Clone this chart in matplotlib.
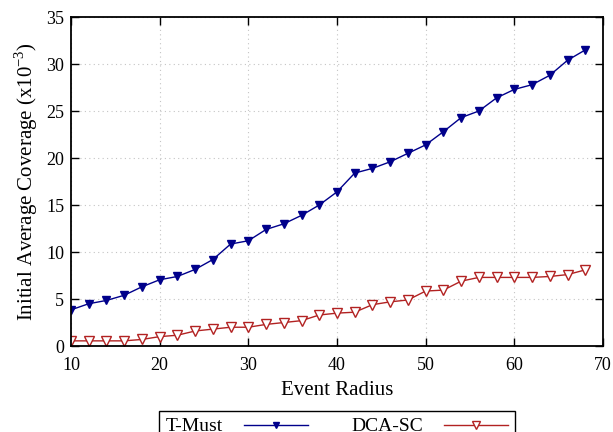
import matplotlib
matplotlib.use("Agg")
import matplotlib.pyplot as plt

plt.rcParams['font.family'] = ['Liberation Serif', 'DejaVu Serif']
plt.rcParams['mathtext.fontset'] = 'custom'
plt.rcParams['mathtext.rm'] = 'Liberation Serif'

# data
radius = [10, 12, 14, 16, 18, 20, 22, 24, 26, 28, 30, 32, 34, 36, 38,
          40, 42, 44, 46, 48, 50, 52, 54, 56, 58, 60, 62, 64, 66, 68]
t_must = [3.85, 4.5, 4.85, 5.4, 6.3, 7.05, 7.4, 8.15, 9.2, 10.85, 11.2, 12.4, 13.0, 13.9, 15.0,
          16.4, 18.4, 18.9, 19.6, 20.5, 21.4, 22.8, 24.3, 25.0, 26.4, 27.3, 27.8, 28.8, 30.4, 31.5]
dca_sc = [0.55, 0.55, 0.55, 0.55, 0.7, 1.0, 1.15, 1.6, 1.8, 2.0, 2.0, 2.3, 2.5, 2.7, 3.3,
          3.5, 3.6, 4.4, 4.7, 4.9, 5.85, 5.95, 6.9, 7.3, 7.3, 7.3, 7.3, 7.4, 7.6, 8.1]

fig = plt.figure(figsize=(6.13, 4.32), dpi=100)
ax = fig.add_axes([0.1158, 0.199, 0.8679, 0.7616])

ax.plot(radius, t_must, color='#00008b', lw=1, marker='v', ms=5.5,
        label='T-Must')
ax.plot(radius, dca_sc, color='#b22222', lw=1, marker='v', ms=6.5,
        markerfacecolor='white', markeredgewidth=1, label='DCA-SC')

ax.set_xlim(10, 70)
ax.set_ylim(0, 35)
ax.set_xticks(range(10, 71, 10))
ax.set_yticks(range(0, 36, 5))
ax.tick_params(direction='in', top=True, right=True, length=6, width=1,
               labelsize=13)
ax.tick_params(axis='x', pad=8)
ax.tick_params(axis='y', pad=5)
ax.grid(True, linestyle=(0, (1, 3)), color='#c4c4c4', lw=0.8)
for s in ax.spines.values():
    s.set_linewidth(1.3)

ax.set_xlabel('Event Radius', fontsize=15, labelpad=5)
ax.set_ylabel('Initial Average Coverage (x10$^{-3}$)', fontsize=15, labelpad=4)

leg = ax.legend(loc='upper center', bbox_to_anchor=(0.5, -0.1976), ncol=2,
                markerfirst=False, fancybox=False, edgecolor='black',
                framealpha=1, fontsize=14, handlelength=3.3, handletextpad=1.1,
                columnspacing=2.2, borderpad=0.35, borderaxespad=0,
                markerscale=0.8)
leg.get_frame().set_linewidth(1)

fig.savefig('out.png', dpi=100)
